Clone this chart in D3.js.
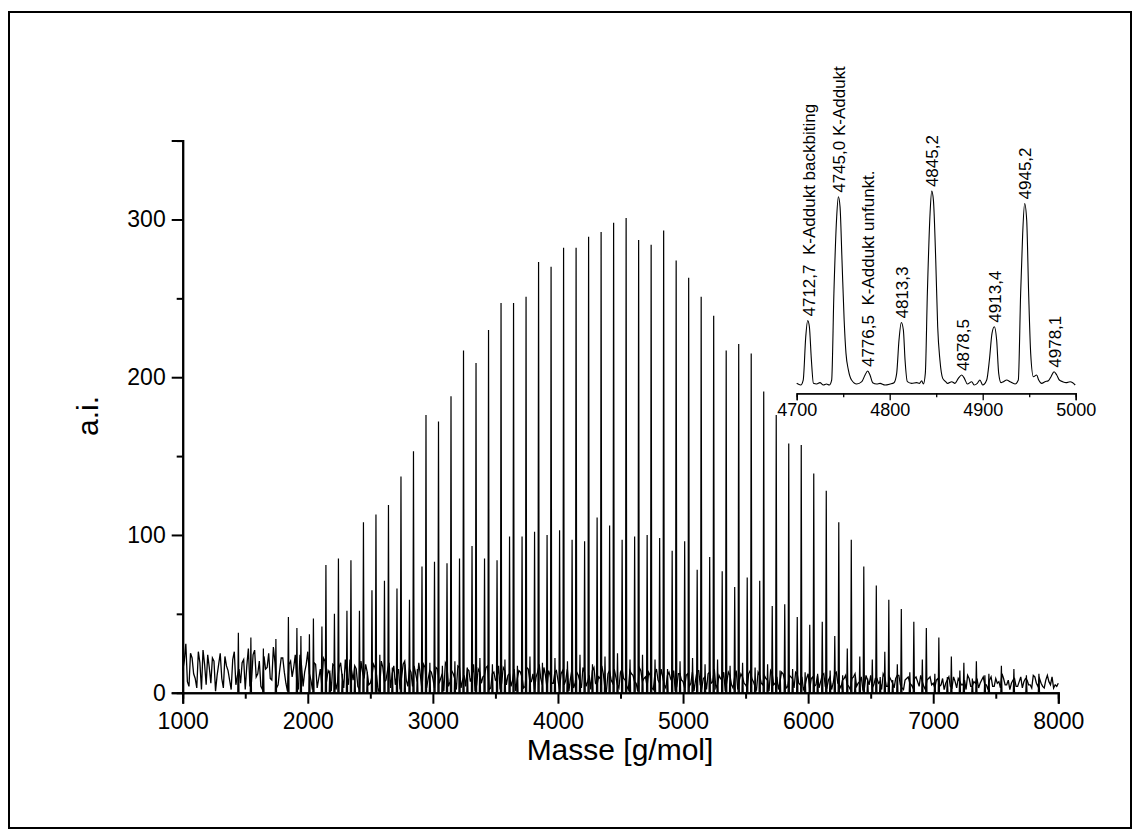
<!DOCTYPE html>
<html>
<head>
<meta charset="utf-8">
<script src="https://cdn.jsdelivr.net/npm/d3@7"></script>
<style>
  body { margin: 0; background: #fff; }
  svg text { font-family: "Liberation Sans", Arial, sans-serif; fill: #000; }
</style>
</head>
<body>
<script>
"use strict";
// main spectrum: K-Adduct series (tall peaks)
const mainMass = [1445, 1545, 1645, 1745, 1845, 1945, 2045, 2145, 2245, 2345, 2445, 2545, 2645, 2745, 2845, 2945, 3045, 3145, 3245, 3345, 3445, 3545, 3645, 3745, 3845, 3945, 4045, 4145, 4245, 4345, 4445, 4545, 4645, 4745, 4845, 4945, 5045, 5145, 5245, 5345, 5445, 5545, 5645, 5745, 5845, 5945, 6045, 6145, 6245, 6345, 6445, 6545, 6645, 6745, 6845, 6945, 7045, 7145, 7245, 7345, 7445, 7545, 7645, 7745, 7845];
const mainInt = [38, 35, 28, 34, 48, 36, 47, 81, 85, 84, 108, 113, 119, 137, 153, 176, 172, 188, 217, 209, 230, 247, 247, 251, 273, 270, 282, 282, 289, 292, 298, 301, 287, 284, 293, 274, 263, 251, 239, 217, 221, 215, 191, 176, 158, 157, 139, 128, 108, 97, 80, 68, 59, 53, 45, 41, 35, 23, 19, 20, 12, 17, 15, 11, 12];
// backbiting series
const backMass = [1913, 2013, 2113, 2213, 2313, 2413, 2513, 2613, 2713, 2813, 2913, 3013, 3113, 3213, 3313, 3413, 3513, 3613, 3713, 3813, 3913, 4013, 4113, 4213, 4313, 4413, 4513, 4613, 4713, 4813, 4913, 5013, 5113, 5213, 5313, 5413, 5513, 5613, 5713, 5813, 5913, 6013, 6113, 6213, 6313, 6413, 6513, 6613, 6713, 6813, 6913, 7013, 7113, 7213, 7313, 7413];
const backInt = [41, 37, 42, 50, 52, 52, 65, 71, 66, 59, 80, 83, 82, 85, 93, 85, 84, 99, 99, 102, 100, 103, 97, 96, 111, 106, 97, 99, 100, 98, 90, 96, 78, 86, 77, 67, 73, 71, 55, 56, 48, 43, 45, 36, 28, 23, 21, 26, 18, 13, 21, 12, 10, 14, 9, 11];
// unfunctionalised series
const unfMass = [2176, 2276, 2376, 2476, 2576, 2676, 2776, 2876, 2976, 3076, 3176, 3276, 3376, 3476, 3576, 3676, 3776, 3876, 3976, 4076, 4176, 4276, 4376, 4476, 4576, 4676, 4776, 4876, 4976, 5076, 5176, 5276, 5376, 5476, 5576, 5676, 5776, 5876, 5976, 6076, 6176, 6276, 6376, 6476, 6576, 6676];
const unfInt = [14, 12, 15, 13, 24, 16, 18, 15, 19, 17, 20, 16, 22, 18, 21, 17, 23, 19, 22, 20, 24, 18, 23, 25, 21, 24, 21, 15, 20, 22, 18, 21, 17, 19, 16, 18, 14, 15, 13, 12, 14, 11, 10, 9, 10, 8];
// baseline noise: values at 1000, 1025, ... 8000 and at the midpoints 1012.5, 1037.5, ...
const noiseStart = 1000, noiseStep = 25;
const noise = [14, 31, 4, 22, 9, 26, 2, 18, 24, 6, 20, 11, 25, 3, 17, 8, 21, 5, 15, 19, 2, 28, 7, 27, 12, 4, 23, 16, 9, 29, 3, 14, 22, 6, 18, 10, 24, 2, 17, 13, 26,
  8, 19, 3, 15, 22, 7, 12, 18, 2, 16, 10, 21, 5, 14, 17, 4, 20, 9, 13, 6, 18, 11, 3, 16, 8, 19, 12, 5, 15, 10, 20, 4, 13, 17, 7, 11, 18, 3, 14, 9,
  16, 6, 12, 19, 4, 14, 9, 17, 3, 11, 15, 7, 18, 5, 13, 10, 16, 2, 12, 8, 17, 6, 14, 11, 4, 15, 9, 13, 3, 16, 7, 12, 10, 18, 5, 11, 14, 6, 13, 8,
  12, 5, 15, 9, 3, 13, 7, 16, 4, 11, 14, 6, 10, 17, 3, 12, 8, 15, 5, 13, 9, 4, 14, 11, 6, 16, 7, 10, 13, 3, 12, 8, 15, 5, 11, 9, 14, 4, 12, 7,
  11, 4, 13, 8, 14, 3, 10, 12, 6, 15, 5, 9, 13, 7, 11, 3, 14, 8, 10, 5, 12, 9, 4, 13, 6, 11, 8, 14, 5, 10, 7, 12, 3, 11, 9, 13, 6, 10, 4, 12,
  9, 4, 11, 7, 12, 3, 10, 6, 13, 5, 8, 11, 4, 9, 12, 6, 10, 3, 8, 11, 5, 9, 7, 12, 4, 10, 6, 9, 11, 3, 8, 10, 5, 9, 7, 11, 4, 8, 10, 6,
  8, 4, 9, 6, 10, 3, 7, 9, 5, 8, 11, 4, 7, 9, 6, 10, 5, 8, 4, 9, 7, 12, 5, 8, 6, 9, 4, 10, 7, 8, 5, 11, 6, 9, 4, 8, 7, 10, 5, 6];
const noiseMid = [20, 7, 25, 12, 3, 19, 27, 5, 16, 22, 1, 18, 9, 23, 14, 2, 26, 11, 6, 21, 17, 4, 24, 10, 20, 2, 15, 25, 8, 19, 5, 22, 13, 1, 20, 16, 7, 24, 4, 18,
  12, 2, 18, 9, 4, 20, 14, 1, 17, 6, 19, 3, 11, 21, 8, 15, 2, 13, 18, 5, 10, 16, 1, 20, 7, 14, 3, 17, 11, 2, 18, 8, 15, 4, 12, 19, 2, 16, 9, 13,
  3, 15, 9, 1, 17, 7, 12, 2, 16, 8, 4, 14, 10, 1, 15, 6, 11, 17, 3, 13, 9, 2, 16, 5, 12, 8, 1, 14, 10, 4, 15, 7, 2, 13, 9, 16, 3, 11, 6, 14,
  2, 14, 8, 1, 15, 6, 11, 3, 13, 7, 2, 16, 5, 9, 12, 1, 14, 6, 10, 3, 15, 8, 2, 12, 7, 1, 14, 9, 4, 11, 2, 15, 6, 10, 3, 13, 7, 1, 12, 8,
  3, 12, 6, 1, 14, 5, 9, 2, 13, 7, 3, 11, 8, 1, 13, 5, 10, 2, 12, 6, 3, 14, 7, 2, 11, 5, 9, 1, 12, 6, 2, 13, 8, 4, 10, 3, 12, 5, 2, 9,
  2, 10, 5, 3, 11, 4, 8, 2, 12, 6, 3, 9, 5, 2, 10, 4, 7, 2, 11, 5, 3, 9, 6, 2, 10, 4, 8, 3, 11, 5, 2, 9, 6, 3, 10, 4, 7, 2, 9, 5,
  3, 9, 5, 2, 8, 4, 10, 3, 7, 5, 2, 9, 4, 6, 3, 8, 5, 2, 10, 4, 6, 3, 9, 5, 2, 8, 4, 7, 3, 9, 5, 3, 10, 4, 6, 3, 11, 5, 3, 4];
const xTicks = [1000, 2000, 3000, 4000, 5000, 6000, 7000, 8000];
const yTicks = [0, 100, 200, 300];

// inset: traced points of the zoomed spectrum 4700-5000
const insetMass = [4700, 4704.3, 4707, 4709.7, 4711.8, 4713.6, 4715.8, 4718, 4721.5, 4725, 4728.7, 4732, 4735, 4737.6, 4740, 4743, 4744.8, 4746.6, 4748.7, 4751, 4753, 4755.6, 4759, 4764.5, 4770, 4773.5, 4776.3, 4778.8, 4781.7, 4786, 4789.6, 4795, 4800.4, 4804.6, 4807.5, 4810, 4812.5, 4814.7, 4816.5, 4819, 4823.6, 4829, 4832, 4834.4, 4836.2, 4838.3, 4840.5, 4843.4, 4845.2, 4847, 4849.5, 4851.6, 4854, 4857, 4860.2, 4862.3, 4866.7, 4870.2, 4873.8, 4877.4, 4880.3, 4883.5, 4888.2, 4890.7, 4894.2, 4897, 4900, 4904.3, 4907.2, 4910, 4912.5, 4915, 4917.2, 4919.7, 4922.2, 4925.8, 4929.4, 4934.8, 4938.3, 4940.8, 4943, 4945.1, 4947.3, 4949.4, 4951.6, 4954.5, 4958, 4960.2, 4963.4, 4967, 4970.6, 4973.5, 4976.7, 4979.6, 4982.4, 4986, 4989.6, 4993.9, 4996.8, 4999.5];
const insetInt = [2.5, 0, 7.5, 72, 97, 88, 37.6, 2.5, 1.5, 3.5, 0, 1.5, 0, 7.5, 138, 253, 283, 268, 188, 98, 47.6, 22.5, 7.5, 1.5, 5, 15, 21, 15, 3.5, 1.5, 2.5, 0, 1.5, 3.5, 17.5, 67.6, 94, 82.7, 37.6, 5, 2.5, 3.5, 2.5, 6.5, 1.5, 17.5, 138, 258, 291.6, 278, 188, 87.7, 37.6, 10, 5, 2.5, 5, 2.5, 10, 15, 10, 1.5, 5, 0, 2.5, 7.5, 0, 7.5, 37.6, 77.7, 87.7, 67.6, 17.5, 3.5, 5, 7.5, 5, 1.5, 7.5, 138, 228, 273, 248, 138, 47.6, 12.5, 15, 7.5, 2.5, 5, 6.5, 12.5, 20, 15, 7.5, 5, 3.5, 5, 3.5, 0];
const insetTicks = [4700, 4800, 4900, 5000];
const insetLabels = [
  {m: 4712.7, v: 97, t: "4712,7  K-Addukt backbiting"},
  {m: 4745.0, v: 283, t: "4745,0 K-Addukt"},
  {m: 4776.5, v: 21, t: "4776,5  K-Addukt unfunkt."},
  {m: 4813.3, v: 94, t: "4813,3"},
  {m: 4845.2, v: 291.6, t: "4845,2"},
  {m: 4878.5, v: 15, t: "4878,5"},
  {m: 4913.4, v: 87.7, t: "4913,4"},
  {m: 4945.2, v: 273, t: "4945,2"},
  {m: 4978.1, v: 20, t: "4978,1"}
];

const W = 1145, H = 838;
const svg = d3.select("body").append("svg").attr("width", W).attr("height", H);

// outer frame
svg.append("rect").attr("x", 9).attr("y", 12).attr("width", 1122).attr("height", 816)
  .attr("fill", "none").attr("stroke", "#000").attr("stroke-width", 2);

const x = d3.scaleLinear().domain([1000, 8000]).range([182.7, 1058.3]);
const y = d3.scaleLinear().domain([0, 350]).range([692.7, 140.6]);

const plot = svg.append("g");
const line = d3.line().x(d => x(d[0])).y(d => y(d[1]));

const noisePts = [];
noise.forEach((v, i) => {
  noisePts.push([noiseStart + i * noiseStep, v]);
  if (i < noiseMid.length) noisePts.push([noiseStart + (i + 0.5) * noiseStep, noiseMid[i]]);
});
plot.append("path").attr("d", line(noisePts))
  .attr("fill", "none").attr("stroke", "#000").attr("stroke-width", 1.3);

function spikes(masses, ints, half) {
  masses.forEach((m, i) => {
    plot.append("path")
      .attr("d", line([[m - half, 0], [m, ints[i]], [m + half, 0]]))
      .attr("fill", "none").attr("stroke", "#000").attr("stroke-width", 1.2);
  });
}
spikes(unfMass, unfInt, 5);
spikes(backMass, backInt, 5);
spikes(mainMass, mainInt, 5);

// axes
svg.append("g").attr("transform", "translate(0,692.7)")
  .call(d3.axisBottom(x).tickValues(xTicks).tickSize(11).tickPadding(9).tickFormat(d3.format("d")));
svg.append("g").attr("transform", "translate(0,692.7)")
  .call(d3.axisBottom(x).tickValues(d3.range(1500, 8000, 1000)).tickSize(6).tickFormat(""));
svg.append("g").attr("transform", "translate(182.7,0)")
  .call(d3.axisLeft(y).tickValues(yTicks).tickSize(11).tickPadding(6).tickFormat(d3.format("d")));
svg.append("g").attr("transform", "translate(182.7,0)")
  .call(d3.axisLeft(y).tickValues([50, 150, 250, 350]).tickSize(6).tickFormat(""));
svg.selectAll(".domain").attr("stroke-width", 2).attr("stroke", "#000");
svg.selectAll(".tick line").attr("stroke-width", 2).attr("stroke", "#000");
svg.selectAll(".tick text").attr("font-size", 23).style("font-family", "Liberation Sans, Arial, sans-serif");

svg.append("text").attr("x", 620).attr("y", 760).attr("text-anchor", "middle")
  .attr("font-size", 30).text("Masse [g/mol]");
svg.append("text").attr("transform", "translate(98,416) rotate(-90)").attr("text-anchor", "middle")
  .attr("font-size", 30).text("a.i.");

// inset
const ix = d3.scaleLinear().domain([4700, 5000]).range([796.7, 1075.7]);
const iy = d3.scaleLinear().domain([0, 300]).range([385, 185.5]);
const inset = svg.append("g");
inset.append("path")
  .attr("d", d3.line().x((d, i) => ix(insetMass[i])).y(d => iy(d)).curve(d3.curveMonotoneX)(insetInt))
  .attr("fill", "none").attr("stroke", "#000").attr("stroke-width", 1.1);
inset.append("g").attr("transform", "translate(0,393.3)")
  .call(d3.axisBottom(ix).tickValues(insetTicks).tickSize(7).tickPadding(3).tickFormat(d3.format("d")));
inset.append("g").attr("transform", "translate(0,393.3)")
  .call(d3.axisBottom(ix).tickValues([4750, 4850, 4950]).tickSize(4).tickFormat(""));
inset.selectAll(".domain").attr("stroke-width", 1.3);
inset.selectAll(".tick line").attr("stroke-width", 1.3);
inset.selectAll(".tick text").attr("font-size", 18);

inset.selectAll("text.lab").data(insetLabels).enter().append("text")
  .attr("class", "lab")
  .attr("transform", d => "translate(" + (ix(d.m) + 6) + "," + (iy(d.v) - 4) + ") rotate(-90)")
  .attr("font-size", 17)
  .style("white-space", "pre")
  .text(d => d.t);
</script>
</body>
</html>
